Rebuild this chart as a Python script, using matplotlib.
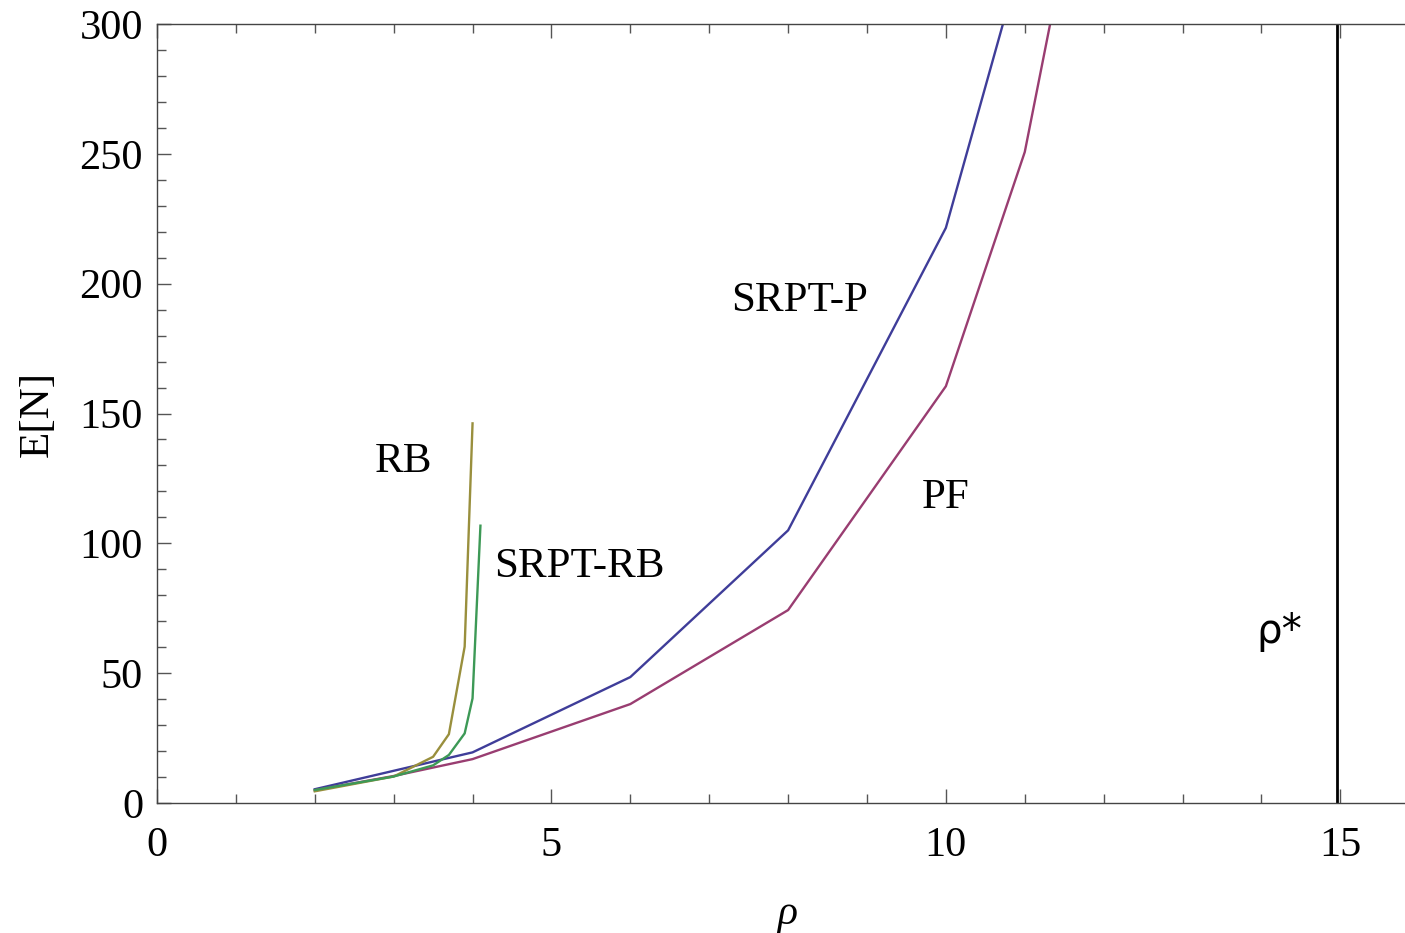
import matplotlib
matplotlib.use("Agg")
import matplotlib.pyplot as plt
from matplotlib.ticker import MultipleLocator

# Data
srpt_p_x = [2, 3, 4, 6, 8, 10, 11]
srpt_p_y = [5.3, 12.4, 19.5, 48.5, 105.0, 221.5, 330.0]

pf_x = [2, 3, 4, 6, 8, 10, 11, 12]
pf_y = [4.9, 10.4, 16.9, 38.1, 74.3, 160.5, 250.7, 404.0]

rb_x = [2, 3, 3.5, 3.7, 3.9, 4.0]
rb_y = [4.5, 10.2, 17.8, 26.5, 60.2, 146.2]

srpt_rb_x = [2, 3, 3.5, 3.7, 3.9, 4.0, 4.1]
srpt_rb_y = [5.0, 10.2, 14.5, 18.5, 26.8, 40.3, 106.8]

rho_star = 14.96

labels = ["SRPT-P", "PF", "RB", "SRPT-RB", "ρ*"]

serif = ["Liberation Serif", "DejaVu Serif"]

fig = plt.figure(figsize=(14.05, 9.33), dpi=100)
ax = fig.add_axes([157/1405, 130/933, 1248/1405, 779/933])

ax.plot(srpt_p_x, srpt_p_y, color="#3F3D99", lw=1.7)
ax.plot(pf_x, pf_y, color="#993D71", lw=1.7)
ax.plot(rb_x, rb_y, color="#998F3D", lw=1.7)
ax.plot(srpt_rb_x, srpt_rb_y, color="#3D9956", lw=1.7)
ax.axvline(rho_star, color="black", lw=2.0)

ax.set_xlim(0, 15.82)
ax.set_ylim(0, 300)

ax.xaxis.set_major_locator(MultipleLocator(5))
ax.xaxis.set_minor_locator(MultipleLocator(1))
ax.yaxis.set_major_locator(MultipleLocator(50))
ax.yaxis.set_minor_locator(MultipleLocator(10))

for s in ["left", "bottom", "top"]:
    ax.spines[s].set_color("#444444")
    ax.spines[s].set_linewidth(1.0)
ax.spines["right"].set_visible(False)

ax.tick_params(which="both", direction="in", top=True, right=False, color="#555555")
ax.tick_params(which="major", length=10, width=1.0)
ax.tick_params(which="minor", length=6.5, width=1.0)
ax.tick_params(axis="y", which="major", pad=10)
ax.tick_params(axis="x", which="major", pad=17)

for lab in ax.get_xticklabels() + ax.get_yticklabels():
    lab.set_fontfamily(serif)
    lab.set_fontsize(30.5)

ax.set_ylabel("E[N]", fontsize=31, family=serif)
ax.yaxis.set_label_coords(-0.080, 0.5)
ax.set_xlabel("ρ", fontsize=30, family=serif, style="italic")
ax.xaxis.set_label_coords(0.505, -0.118)

tk = dict(fontsize=31, family=serif, ha="center", va="center")
ax.text(8.15, 193.5, labels[0], **tk)
ax.text(10.0, 117.5, labels[1], **tk)
ax.text(3.12, 131.5, labels[2], **tk)
ax.text(5.36, 91, labels[3], **tk)
ax.text(14.23, 66, labels[4], fontsize=29, family=["DejaVu Sans"], ha="center", va="center")

fig.savefig("out.png", dpi=100)
